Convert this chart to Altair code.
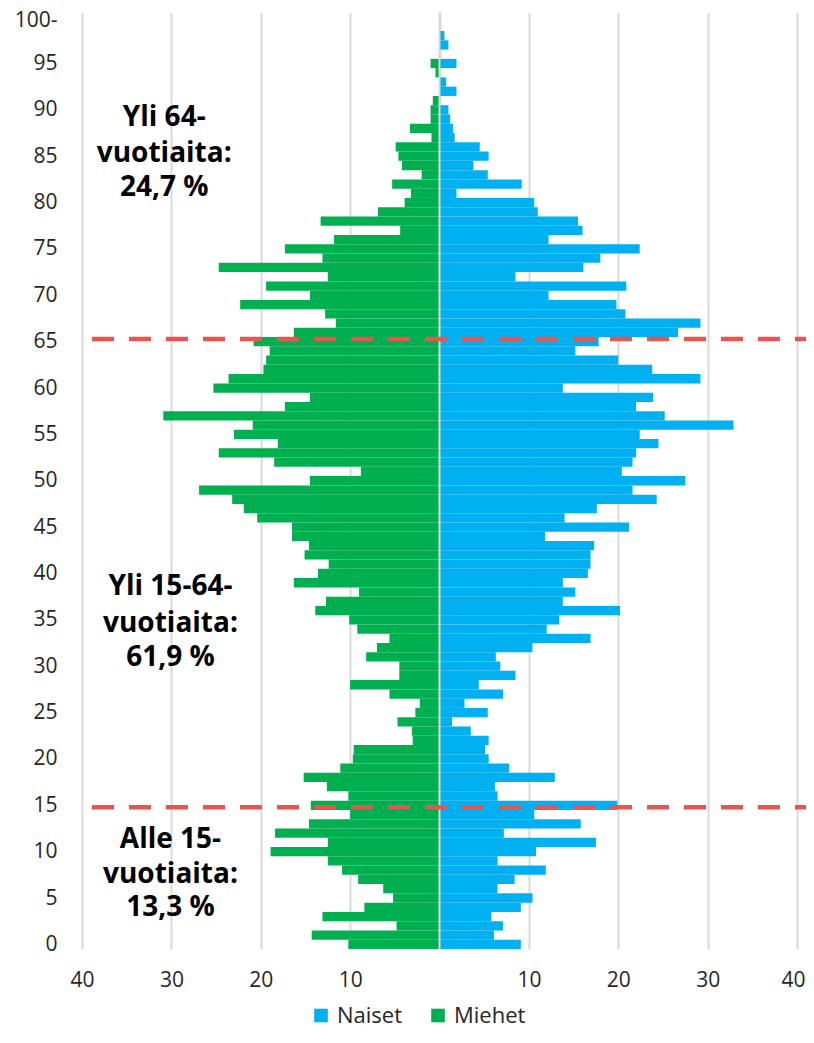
import altair as alt
import pandas as pd

# ---- data ----
AGES = list(range(0, 99))
MIEHET = [10.2, 14.3, 4.8, 13.1, 8.4, 5.2, 6.3, 9.1, 10.9, 12.5,
          18.9, 12.5, 18.4, 14.6, 10.0, 14.4, 10.2, 12.6, 15.2, 11.1,
          9.7, 9.6, 3.0, 3.1, 4.7, 2.7, 2.2, 5.6, 10.0, 4.5,
          4.5, 8.2, 7.0, 5.6, 9.2, 10.1, 13.9, 12.7, 9.0, 16.3,
          13.6, 12.4, 15.1, 14.6, 16.5, 16.5, 20.4, 21.9, 23.2, 26.9,
          14.5, 8.8, 18.5, 24.7, 18.1, 23.0, 20.9, 30.9, 17.3, 14.5,
          25.3, 23.6, 19.7, 19.4, 19.0, 20.8, 16.3, 11.6, 12.8, 22.3,
          14.5, 19.4, 12.5, 24.7, 13.1, 17.3, 11.8, 4.4, 13.3, 6.9,
          3.9, 3.2, 5.3, 2.0, 4.2, 4.6, 4.9, 0.9, 3.3, 1.0,
          1.0, 0.75, 0.0, 0.0, 0.45, 1.0, 0.0, 0.0, 0.0]
NAISET = [9.1, 6.1, 7.1, 5.8, 9.1, 10.4, 6.5, 8.4, 11.9, 6.5,
          10.8, 17.5, 7.2, 15.8, 10.6, 19.9, 6.5, 6.2, 12.9, 7.8,
          5.5, 5.1, 5.5, 3.5, 1.4, 5.4, 2.8, 7.1, 4.4, 8.5,
          6.8, 6.3, 10.4, 16.9, 12.0, 13.4, 20.2, 13.8, 15.2, 13.8,
          16.6, 16.9, 16.9, 17.3, 11.8, 21.2, 14.0, 17.6, 24.3, 21.6,
          27.5, 20.4, 21.6, 22.0, 24.5, 22.4, 32.9, 25.2, 22.0, 23.9,
          13.8, 29.2, 23.8, 20.0, 15.2, 17.8, 26.7, 29.2, 20.8, 19.8,
          12.2, 20.9, 8.5, 16.1, 18.0, 22.4, 12.2, 16.0, 15.5, 11.0,
          10.6, 1.9, 9.2, 5.4, 3.8, 5.5, 4.5, 1.7, 1.5, 1.2,
          1.0, 0.0, 1.9, 0.75, 0.0, 1.9, 0.0, 1.0, 0.55]
SEXES = ["Naiset", "Miehet"]
COLORS = ["#00B0F0", "#00B050"]
X_TICKS = [-40, -30, -20, -10, 0, 10, 20, 30, 40]
Y_TICKS = list(range(0, 101, 5))
THRESHOLDS = [65.3, 14.8]
NOTES = [
    ("Yli 64-", -30.8, 89.1), ("vuotiaita:", -30.8, 85.2), ("24,7 %", -30.8, 81.6),
    ("Yli 15-64-", -30.1, 38.5), ("vuotiaita:", -30.1, 34.5), ("61,9 %", -30.1, 30.9),
    ("Alle 15-", -30.1, 11.3), ("vuotiaita:", -30.1, 7.5), ("13,3 %", -30.1, 3.9),
]

FONT = "Open Sans"

rows = []
for a, m, n in zip(AGES, MIEHET, NAISET):
    rows.append({"sex": "Naiset", "age": a, "lo": 0.0, "hi": n})
    rows.append({"sex": "Miehet", "age": a, "lo": -m, "hi": 0.0})
df = pd.DataFrame(rows)
df["y0"] = df["age"] - 0.5
df["y1"] = df["age"] + 0.5

xscale = alt.Scale(domain=[-40, 40], nice=False, zero=False)
yscale = alt.Scale(domain=[-0.5, 100.5], nice=False, zero=False)

xaxis = alt.Axis(values=X_TICKS, title=None, domain=False, ticks=False,
                 grid=True, gridColor="#d9d9d9", gridWidth=2, labelFlush=False,
                 labelExpr="datum.value == 0 ? '' : format(abs(datum.value), 'd')",
                 labelOffset={"condition": {"test": "datum.value == 40", "value": -4}, "value": 0},
                 labelFont=FONT, labelFontSize=21, labelColor="#262626",
                 labelPadding=20)
yaxis = alt.Axis(values=Y_TICKS, title=None, domain=False, ticks=False, grid=False,
                 labelFlush=False,
                 labelExpr="datum.value == 100 ? '100-' : datum.label",
                 labelOffset={"condition": {"test": "datum.value == 100", "value": 3}, "value": 0},
                 labelFont=FONT, labelFontSize=21, labelColor="#262626",
                 labelPadding=25)

bars = alt.Chart(df).mark_rect().encode(
    x=alt.X("lo:Q", scale=xscale, axis=xaxis),
    x2="hi:Q",
    y=alt.Y("y0:Q", scale=yscale, axis=yaxis),
    y2="y1:Q",
    color=alt.Color("sex:N", scale=alt.Scale(domain=SEXES, range=COLORS),
                    legend=alt.Legend(title=None, orient="none", direction="horizontal",
                                      legendX=228, legendY=992, symbolType="square",
                                      symbolSize=185, symbolStrokeWidth=0,
                                      labelFont=FONT, labelFontSize=22,
                                      labelColor="#262626", labelOffset=5,
                                      columnPadding=24, padding=0)),
)

center = alt.Chart(pd.DataFrame({"v": [0]})).mark_rule(color="#d9d9d9", strokeWidth=2).encode(
    x=alt.X("v:Q", scale=xscale)
)

lines = alt.Chart(pd.DataFrame({"t": THRESHOLDS})).mark_rule(
    color="#E8554E", strokeWidth=4.5, strokeDash=[22, 15]
).encode(
    y=alt.Y("t:Q", scale=yscale),
    x=alt.value(10),
    x2=alt.value(724),
)

notes = alt.Chart(pd.DataFrame(NOTES, columns=["txt", "x", "y"])).mark_text(
    font=FONT, fontSize=28, fontWeight="bold", color="#000000", align="center", baseline="middle"
).encode(
    x=alt.X("x:Q", scale=xscale),
    y=alt.Y("y:Q", scale=yscale),
    text="txt:N",
)

chart = alt.layer(bars, center, lines, notes).properties(
    width=715, height=936.5,
    autosize=alt.AutoSizeParams(type="none"),
    padding={"left": 74, "top": 4.5, "right": 9, "bottom": 81},
).configure_view(stroke=None)

chart.save("out.html", embed_options={"renderer": "svg", "actions": False})
